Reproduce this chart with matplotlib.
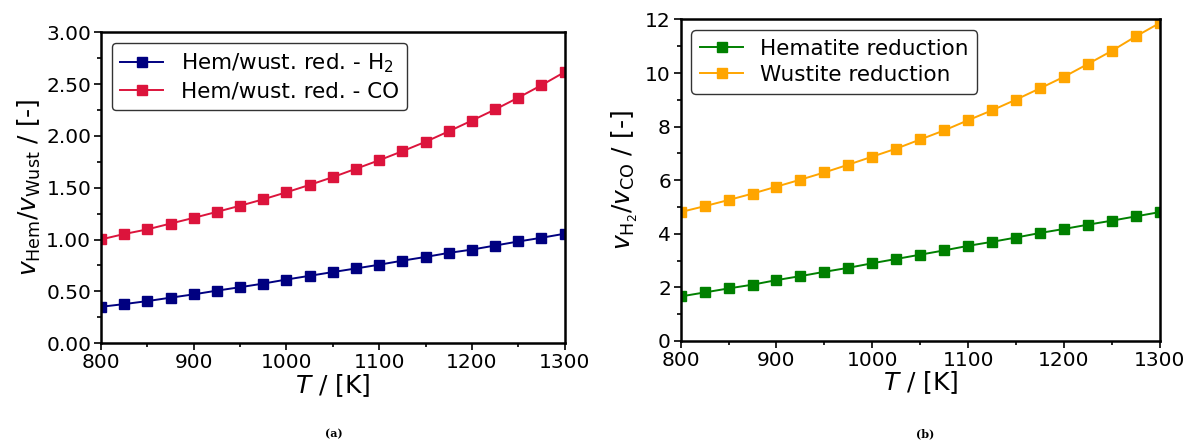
import matplotlib
matplotlib.use("Agg")
import matplotlib.pyplot as plt
from matplotlib.ticker import MultipleLocator, FormatStrFormatter

T = [800, 825, 850, 875, 900, 925, 950, 975, 1000, 1025, 1050, 1075, 1100,
     1125, 1150, 1175, 1200, 1225, 1250, 1275, 1300]

hem_wust_h2 = [0.351, 0.377, 0.406, 0.439, 0.471, 0.507, 0.540, 0.575, 0.614,
               0.650, 0.686, 0.721, 0.757, 0.796, 0.832, 0.871, 0.903, 0.942,
               0.981, 1.017, 1.056]
hem_wust_co = [1.001, 1.053, 1.098, 1.154, 1.209, 1.267, 1.326, 1.388, 1.456,
               1.527, 1.602, 1.683, 1.765, 1.852, 1.943, 2.044, 2.148, 2.255,
               2.369, 2.489, 2.616]

hematite = [1.66, 1.81, 1.96, 2.10, 2.27, 2.42, 2.58, 2.73, 2.90, 3.06, 3.22,
            3.38, 3.55, 3.70, 3.86, 4.03, 4.18, 4.34, 4.49, 4.65, 4.81]
wustite = [4.81, 5.03, 5.26, 5.50, 5.76, 6.02, 6.29, 6.58, 6.88, 7.18, 7.52,
           7.86, 8.24, 8.61, 9.01, 9.43, 9.86, 10.34, 10.83, 11.37, 11.87]

fig = plt.figure(figsize=(11.92, 4.48), dpi=100)
axa = fig.add_axes([0.0847, 0.234, 0.389, 0.694])
axb = fig.add_axes([0.571, 0.239, 0.402, 0.7175])

ms = 6.5
lw = 1.4
axa.plot(T, hem_wust_h2, '-s', color='#000080', ms=ms, lw=lw,
         label=r'Hem/wust. red. - H$_2$')
axa.plot(T, hem_wust_co, '-s', color='#DC143C', ms=ms, lw=lw,
         label='Hem/wust. red. - CO')
axb.plot(T, hematite, '-s', color='#008000', ms=ms, lw=lw,
         label='Hematite reduction')
axb.plot(T, wustite, '-s', color='#FFA500', ms=ms, lw=lw,
         label='Wustite reduction')

axa.set_xlim(800, 1300)
axa.set_ylim(0, 3)
axa.yaxis.set_major_locator(MultipleLocator(0.5))
axa.yaxis.set_minor_locator(MultipleLocator(0.25))
axa.yaxis.set_major_formatter(FormatStrFormatter('%.2f'))
axa.set_ylabel(r'$v_{\mathrm{Hem}}/v_{\mathrm{Wust}}$ / [-]', fontsize=18,
               labelpad=2)

axb.set_xlim(800, 1300)
axb.set_ylim(0, 12)
axb.yaxis.set_major_locator(MultipleLocator(2))
axb.yaxis.set_minor_locator(MultipleLocator(1))
axb.set_ylabel(r'$v_{\mathrm{H_2}}/v_{\mathrm{CO}}$ / [-]', fontsize=18,
               labelpad=4)

for ax in (axa, axb):
    ax.xaxis.set_major_locator(MultipleLocator(100))
    ax.xaxis.set_minor_locator(MultipleLocator(50))
    ax.set_xlabel(r'$T$ / [K]', fontsize=18, labelpad=0)
    ax.tick_params(which='major', labelsize=14.5, length=5, width=1.2, pad=2)
    ax.tick_params(which='minor', length=3, width=1.2)
    for s in ax.spines.values():
        s.set_linewidth(1.8)
    leg = ax.legend(loc='upper left', fontsize=15.5, fancybox=True,
                    framealpha=1.0, edgecolor='#333333',
                    bbox_to_anchor=(0.0, 1.0), borderaxespad=0.5,
                    labelspacing=0.28, borderpad=0.4)
    leg.get_frame().set_linewidth(1.0)

fig.text(0.2797, 0.025, '(a)', fontsize=8, fontweight='bold',
         family='DejaVu Serif', ha='center')
fig.text(0.776, 0.025, '(b)', fontsize=8, fontweight='bold',
         family='DejaVu Serif', ha='center')

fig.savefig('out.png', dpi=100)
